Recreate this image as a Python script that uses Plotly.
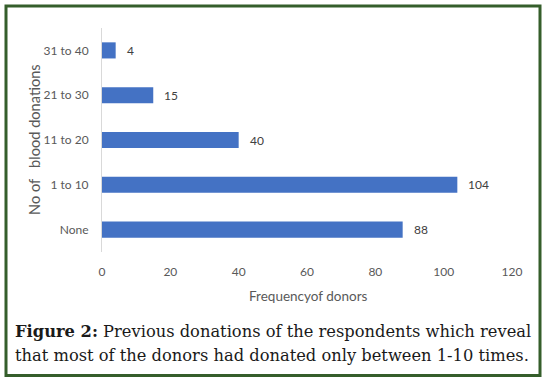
import plotly.graph_objects as go

categories = ["None", "1 to 10", "11 to 20", "21 to 30", "31 to 40"]
donors = [88, 104, 40, 15, 4]
x_ticks = [0, 20, 40, 60, 80, 100, 120]

W, H = 547, 383
L, R, T, B = 102, 35, 27.5, 130.5
PH = H - T - B
PW = W - L - R

def px_x(px):
    return (px - L) / PW

def px_y(py):
    return (H - B - py) / PH

TICK_FONT = dict(family="Lato, Carlito, sans-serif", size=12, color="#595959")

fig = go.Figure()
fig.add_trace(go.Bar(
    y=categories, x=donors, orientation="h",
    marker=dict(color="#4472C4", line=dict(width=0)),
    width=0.36, hoverinfo="skip",
))

for c, v in zip(categories, donors):
    fig.add_annotation(x=v, y=c, xref="x", yref="y", text=str(v), showarrow=False,
                       xanchor="left", yanchor="middle", xshift=9,
                       font=dict(family="Lato, sans-serif", size=12, color="#404040"))

fig.add_annotation(x=px_x(308), y=px_y(297), xref="paper", yref="paper",
                   text="Frequencyof donors", showarrow=False,
                   xanchor="center", yanchor="middle",
                   font=dict(family="Lato, sans-serif", size=13.5, color="#595959"))
fig.add_annotation(x=px_x(34), y=px_y(140), xref="paper", yref="paper",
                   text="No of&nbsp;&nbsp; blood donations", showarrow=False, textangle=-90,
                   xanchor="center", yanchor="middle",
                   font=dict(family="Lato, sans-serif", size=14.6, color="#595959"))

CAP_FONT = dict(family="DejaVu Serif, serif", size=16.3, color="#1a1a1a")
fig.add_annotation(x=px_x(13), y=px_y(332), xref="paper", yref="paper",
                   text="<b>Figure 2:</b> Previous donations of the respondents which reveal",
                   showarrow=False, xanchor="left", yanchor="middle", align="left",
                   font=CAP_FONT)
fig.add_annotation(x=px_x(13), y=px_y(356), xref="paper", yref="paper",
                   text="that most of the donors had donated only between 1-10 times.",
                   showarrow=False, xanchor="left", yanchor="middle", align="left",
                   font=CAP_FONT)

fig.add_shape(type="rect", xref="paper", yref="paper",
              x0=px_x(6), x1=px_x(540), y0=px_y(5.5), y1=px_y(376.5),
              line=dict(color="#355E2B", width=3), fillcolor="rgba(0,0,0,0)")

fig.update_layout(
    width=W, height=H,
    margin=dict(l=L, r=R, t=T, b=B, pad=0),
    paper_bgcolor="white", plot_bgcolor="white",
    showlegend=False,
    xaxis=dict(range=[0, 120], tickvals=x_ticks, showgrid=False, zeroline=False,
               showline=False, ticks="", tickfont=TICK_FONT, ticklabelstandoff=11,
               fixedrange=True),
    yaxis=dict(categoryorder="array", categoryarray=categories, showgrid=False,
               zeroline=False, showline=True, linecolor="#d9d9d9", linewidth=1,
               ticks="", tickfont=TICK_FONT, ticklabelstandoff=10, fixedrange=True),
)

fig.write_html("out.html", config={"displayModeBar": False},
               post_script="document.body.style.margin='0';document.body.style.overflow='hidden';")
